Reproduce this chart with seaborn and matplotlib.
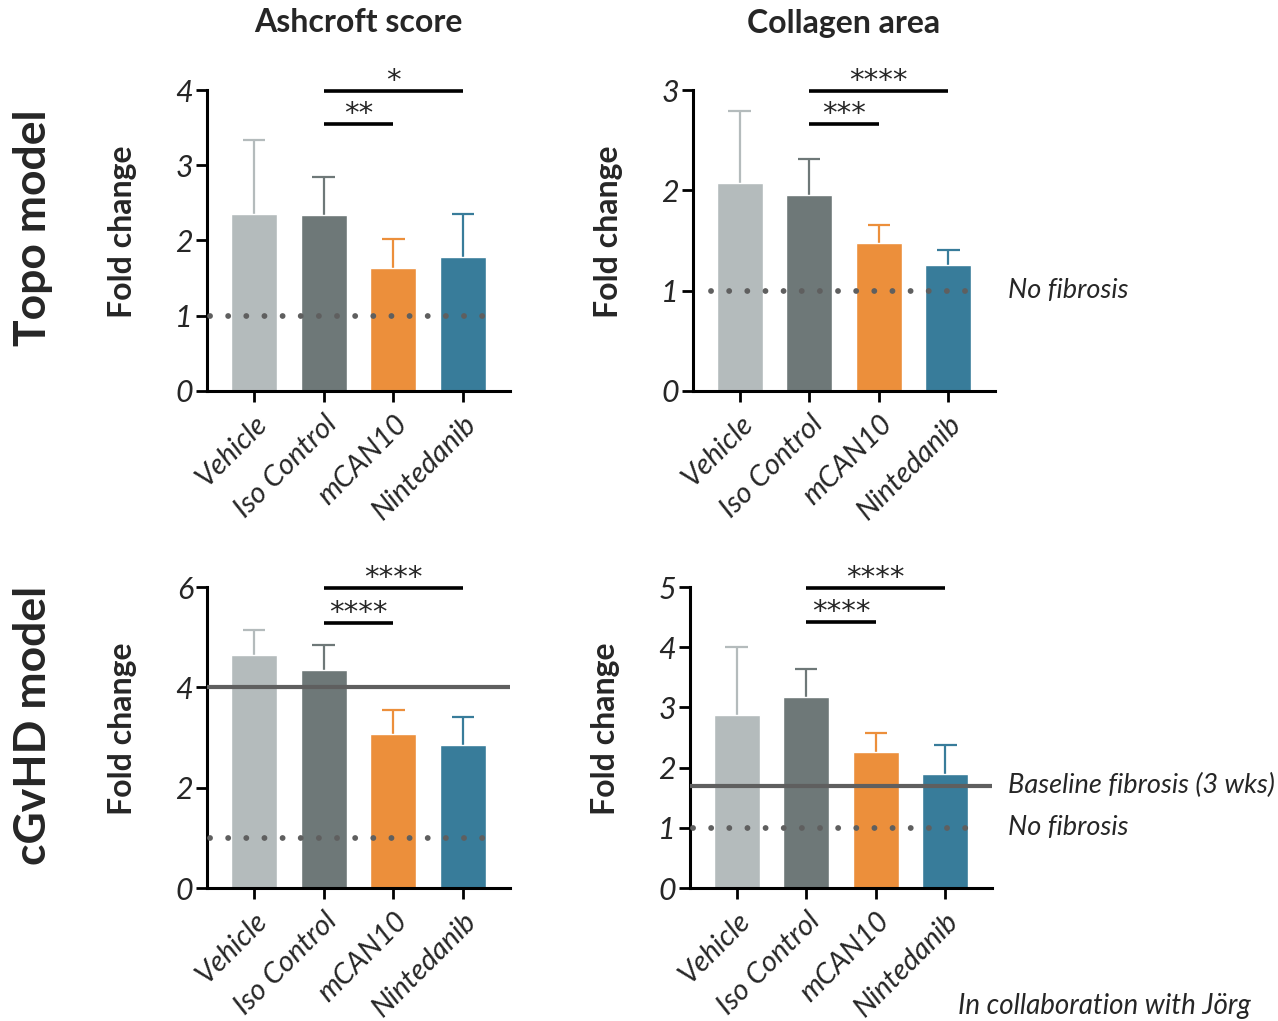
import matplotlib.pyplot as plt
import seaborn as sns

# categories and colours (Vehicle, Iso Control, mCAN10, Nintedanib)
groups = ["Vehicle", "Iso Control", "mCAN10", "Nintedanib"]
bar_colors = ["#B4BBBC", "#6E7878", "#EC8F3B", "#387C9A"]

# bar heights (mean fold change) and top of the upper error bar
ashcroft_topo = [2.35, 2.34, 1.63, 1.78]
ashcroft_topo_top = [3.34, 2.84, 2.02, 2.35]
collagen_topo = [2.07, 1.95, 1.48, 1.26]
collagen_topo_top = [2.79, 2.31, 1.65, 1.41]
ashcroft_cgvhd = [4.64, 4.34, 3.07, 2.85]
ashcroft_cgvhd_top = [5.14, 4.84, 3.55, 3.41]
collagen_cgvhd = [2.87, 3.17, 2.26, 1.89]
collagen_cgvhd_top = [4.00, 3.64, 2.57, 2.37]

# significance brackets: (from group, to group, stars, bracket height)
sig_ashcroft_topo = [("Iso Control", "mCAN10", "**", 3.55),
                     ("Iso Control", "Nintedanib", "*", 3.99)]
sig_collagen_topo = [("Iso Control", "mCAN10", "***", 2.66),
                     ("Iso Control", "Nintedanib", "****", 2.99)]
sig_ashcroft_cgvhd = [("Iso Control", "mCAN10", "****", 5.28),
                      ("Iso Control", "Nintedanib", "****", 5.98)]
sig_collagen_cgvhd = [("Iso Control", "mCAN10", "****", 4.42),
                      ("Iso Control", "Nintedanib", "****", 4.99)]

no_fibrosis = 1.0
baseline_ashcroft_cgvhd = 4.0
baseline_collagen_cgvhd = 1.7

sns.set_theme(style="ticks")
plt.rcParams["font.family"] = ["Lato", "DejaVu Sans"]

REF_GRAY = "#5F5F5F"
CAP_HALF = 0.16  # half width of the error bar cap, in bar units


def panel(ax, means, tops, ymax, sig, dot_start=0.01):
    sns.barplot(x=groups, y=means, hue=groups, palette=bar_colors, saturation=1,
                width=0.66, legend=False, errorbar=None, ax=ax, zorder=2)
    # upper-only error bars in the bar colour
    for i, (m, t, c) in enumerate(zip(means, tops, bar_colors)):
        ax.vlines(i, m, t, color=c, lw=1.6, zorder=1)
        ax.hlines(t, i - CAP_HALF, i + CAP_HALF, color=c, lw=1.6, zorder=1)
    ax.axhline(no_fibrosis, xmin=dot_start, xmax=0.96, color=REF_GRAY, lw=4.2,
               ls=(0, (0.01, 3.1)), dash_capstyle="round", zorder=3)
    for a, b, stars, h in sig:
        x0, x1 = groups.index(a), groups.index(b)
        ax.plot([x0, x1], [h, h], color="black", lw=2.6, clip_on=False,
                solid_capstyle="butt", zorder=4)
        ax.annotate(stars, xy=((x0 + x1) / 2, h), xytext=(0, 1.5),
                    textcoords="offset points", ha="center", va="baseline",
                    fontsize=21, family="DejaVu Sans", annotation_clip=False)
    ax.set_xlim(-0.67, 3.67)
    ax.set_ylim(0, ymax)
    ax.set_yticks(range(0, int(ymax) + 1, 1 if ymax <= 5 else 2))
    sns.despine(ax=ax)
    for s in ("left", "bottom"):
        ax.spines[s].set_linewidth(2.2)
        ax.spines[s].set_color("black")
    ax.tick_params(width=2, length=8, color="black", pad=2)
    ax.tick_params(axis="x", pad=6)
    ax.tick_params(axis="y", labelsize=22)
    ax.set_xlabel("")
    ax.set_ylabel("Fold change", fontsize=23, fontweight="bold")
    ax.yaxis.set_label_coords(-0.232, 0.53)
    for lab in ax.get_yticklabels():
        lab.set_fontstyle("italic")
    ax.set_xticks(range(len(groups)))
    ax.set_xticklabels(groups, rotation=45, ha="right", va="top",
                       rotation_mode="anchor", fontstyle="italic", fontsize=21)


fig = plt.figure(figsize=(12.78, 10.21), dpi=100)
W, H = 1278, 1021


def box(left, top, right, bottom):
    return [left / W, 1 - bottom / H, (right - left) / W, (bottom - top) / H]


ax1 = fig.add_axes(box(207, 90, 510, 391))
ax2 = fig.add_axes(box(693, 90, 995, 391))
ax3 = fig.add_axes(box(207, 587, 510, 888))
ax4 = fig.add_axes(box(690, 587, 992, 888))

panel(ax1, ashcroft_topo, ashcroft_topo_top, 4, sig_ashcroft_topo)
panel(ax2, collagen_topo, collagen_topo_top, 3, sig_collagen_topo, dot_start=0.06)
panel(ax3, ashcroft_cgvhd, ashcroft_cgvhd_top, 6, sig_ashcroft_cgvhd)
panel(ax4, collagen_cgvhd, collagen_cgvhd_top, 5, sig_collagen_cgvhd)

ax3.axhline(baseline_ashcroft_cgvhd, color=REF_GRAY, lw=3, zorder=3)
ax4.axhline(baseline_collagen_cgvhd, color=REF_GRAY, lw=3, zorder=3)

label_kw = dict(xycoords=("axes fraction", "data"), va="center", ha="left",
                fontsize=19.5, fontstyle="italic", annotation_clip=False)
ax2.annotate("No fibrosis", xy=(1.043, no_fibrosis), **label_kw)
ax4.annotate("No fibrosis", xy=(1.052, no_fibrosis), **label_kw)
ax4.annotate("Baseline fibrosis (3 wks)", xy=(1.052, baseline_collagen_cgvhd), **label_kw)

fig.text(358 / W, 1 - 23 / H, "Ashcroft score", ha="center", va="center",
         fontsize=23, fontweight="bold")
fig.text(844 / W, 1 - 23 / H, "Collagen area", ha="center", va="center",
         fontsize=23, fontweight="bold")
fig.text(33 / W, 1 - 228 / H, "Topo model", ha="center", va="center",
         rotation=90, fontsize=32, fontweight="bold")
fig.text(33 / W, 1 - 725 / H, "cGvHD model", ha="center", va="center",
         rotation=90, fontsize=32, fontweight="bold")
fig.text(958 / W, 1 - 1006 / H, "In collaboration with Jörg", ha="left",
         va="center", fontsize=20, fontstyle="italic")

fig.savefig("out.png", dpi=100)
